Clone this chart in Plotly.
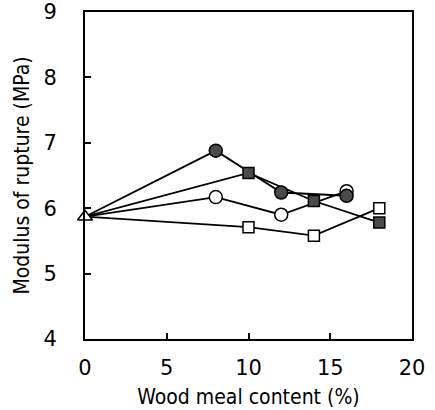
import plotly.graph_objects as go

# Wood meal content (%) and modulus of rupture (MPa) for each series
base_x = [0]
base_y = [5.87]

filled_circle_x = [0, 8, 12, 16]
filled_circle_y = [5.87, 6.88, 6.24, 6.19]

filled_square_x = [0, 10, 14, 18]
filled_square_y = [5.87, 6.54, 6.11, 5.78]

open_circle_x = [0, 8, 12, 16]
open_circle_y = [5.87, 6.17, 5.90, 6.26]

open_square_x = [0, 10, 14, 18]
open_square_y = [5.87, 5.71, 5.58, 6.00]

x_ticks = [0, 5, 10, 15, 20]
y_ticks = [4, 5, 6, 7, 8, 9]

FONT = "DejaVu Sans"
TITLE_FONT = "DejaVu Sans Condensed, DejaVu Sans"
DARK = "#4a4a4a"
LINE = dict(color="black", width=1.8)

all_series = [
    (open_square_x, open_square_y, "square", "white", 11),
    (open_circle_x, open_circle_y, "circle", "white", 13),
    (filled_square_x, filled_square_y, "square", DARK, 11),
    (filled_circle_x, filled_circle_y, "circle", DARK, 13),
]

fig = go.Figure()

# lines first, so every marker sits above all connecting segments
for xs, ys, _, _, _ in all_series:
    fig.add_trace(go.Scatter(x=xs, y=ys, mode="lines", line=LINE,
                             cliponaxis=False, showlegend=False))

for xs, ys, symbol, fill, size in all_series:
    fig.add_trace(go.Scatter(
        x=xs[1:], y=ys[1:], mode="markers",
        marker=dict(symbol=symbol, size=size, color=fill,
                    line=dict(color="black", width=1.5)),
        cliponaxis=False, showlegend=False,
    ))

# shared starting point (no wood meal)
fig.add_trace(go.Scatter(
    x=base_x, y=base_y, mode="markers",
    marker=dict(symbol="triangle-up", size=13, color="white",
                line=dict(color="black", width=1.5)),
    cliponaxis=False, showlegend=False,
))

axis_common = dict(
    showline=True, linecolor="black", linewidth=2, mirror=True,
    ticks="inside", ticklen=6, tickwidth=1.5, tickcolor="black",
    showgrid=False, zeroline=False, automargin=False,
    tickfont=dict(family=FONT, size=21, color="black"),
)

fig.update_layout(
    width=435, height=410,
    margin=dict(l=85, r=23, t=12, b=71),
    paper_bgcolor="white", plot_bgcolor="white",
    font=dict(family=FONT, color="black"),
    xaxis=dict(range=[0, 20], tickvals=x_ticks, ticklabelstandoff=9,
               title=dict(text="Wood meal content (%)",
                          font=dict(family=TITLE_FONT, size=21), standoff=10),
               **axis_common),
    yaxis=dict(range=[4, 9], tickvals=y_ticks, ticklabelstandoff=22,
               title=dict(text="Modulus of rupture (MPa)",
                          font=dict(family=TITLE_FONT, size=21), standoff=8),
               **axis_common),
)

fig.write_html("out.html")
